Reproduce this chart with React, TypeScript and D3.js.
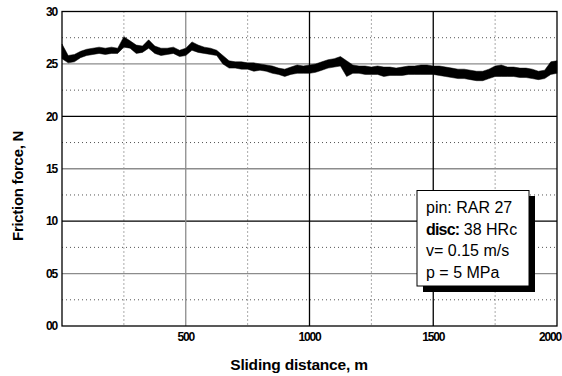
import React from 'react';
import * as d3 from 'd3';

// sliding distance samples (m)
const distance = [
  0, 25, 50, 75, 100, 125, 150, 175, 200, 225, 250, 275, 300, 325, 350, 375, 400, 425, 450, 475,
  500, 525, 550, 575, 600, 625, 650, 675, 700, 725, 750, 775, 800, 825, 850, 875, 900, 925, 950, 975,
  1000, 1025, 1050, 1075, 1100, 1125, 1150, 1175, 1200, 1225, 1250, 1275, 1300, 1325, 1350, 1375, 1400, 1425, 1450, 1475,
  1500, 1525, 1550, 1575, 1600, 1625, 1650, 1675, 1700, 1725, 1750, 1775, 1800, 1825, 1850, 1875, 1900, 1925, 1950, 1975,
  2000,
];
// lower / upper edge of the noisy friction trace (N)
const forceLow = [
  25.5, 25.1, 25.2, 25.6, 25.8, 25.9, 26.0, 25.9, 26.0, 26.0, 26.6, 26.5, 26.0, 26.1, 26.5, 26.0, 25.8, 25.9, 26.0, 25.7,
  25.8, 26.3, 26.1, 26.0, 25.9, 25.8, 25.0, 24.6, 24.6, 24.5, 24.5, 24.3, 24.4, 24.3, 24.1, 24.0, 23.8, 24.0, 24.1, 24.1,
  24.1, 24.2, 24.4, 24.6, 24.7, 24.8, 23.8, 24.1, 24.1, 24.0, 24.0, 24.0, 23.8, 23.9, 23.9, 23.9, 24.0, 24.0, 24.0, 24.0,
  24.0, 23.9, 23.8, 23.7, 23.6, 23.6, 23.5, 23.4, 23.4, 23.6, 23.8, 23.8, 23.8, 23.8, 23.7, 23.7, 23.6, 23.5, 23.6, 24.0,
  24.1,
];
const forceHigh = [
  26.9, 25.8, 25.9, 26.2, 26.4, 26.5, 26.6, 26.5, 26.6, 26.5, 27.6, 27.2, 26.8, 26.7, 27.3, 26.7, 26.5, 26.5, 26.6, 26.3,
  26.5, 27.1, 26.8, 26.6, 26.5, 26.3, 25.8, 25.3, 25.2, 25.2, 25.1, 25.1, 25.0, 24.9, 24.8, 24.6, 24.5, 24.7, 24.9, 24.8,
  24.9, 25.0, 25.2, 25.4, 25.5, 25.7, 25.3, 24.9, 24.8, 24.8, 24.7, 24.8, 24.7, 24.7, 24.6, 24.7, 24.8, 24.8, 24.9, 24.9,
  24.8, 24.8, 24.7, 24.6, 24.5, 24.5, 24.4, 24.3, 24.3, 24.5, 24.8, 24.9, 24.7, 24.7, 24.6, 24.6, 24.5, 24.3, 24.4, 25.2,
  25.3,
];

const xMajor = [500, 1000, 1500];
const xMinor = [250, 750, 1250, 1750];
const xTickValues = [500, 1000, 1500, 2000];
const xTickLabels = ['500', '1000', '1500', '2000'];
const yMajor = [0, 5, 10, 15, 20, 25, 30];
const yMinor = [2.5, 7.5, 12.5, 17.5, 22.5, 27.5];
const yTickLabels = ['00', '05', '10', '15', '20', '25', '30'];
const legendLines = [
  { head: 'pin:', rest: ' RAR 27', bold: false },
  { head: 'disc:', rest: ' 38 HRc', bold: true },
  { head: 'v', rest: '= 0.15 m/s', bold: false },
  { head: 'p', rest: ' = 5 MPa', bold: false },
];

const W = 562;
const H = 376;
const left = 62, right = 557, top = 11.5, bottom = 326;
const font = 'Arial, "Liberation Sans", sans-serif';

export default function App() {
  const x = d3.scaleLinear().domain([0, 2000]).range([left, right]);
  const y = d3.scaleLinear().domain([0, 30]).range([bottom, top]);

  const band = d3.area<number>()
    .x((_, i) => x(distance[i]))
    .y0((_, i) => y(forceLow[i]))
    .y1((_, i) => y(forceHigh[i]));
  const bandPath = band(distance) || '';

  const tickFont = { fontFamily: font, fontWeight: 'bold', fontSize: 12, letterSpacing: -1.2 };
  const majorColour = (v: number) => (v % 10 === 5 || v === 500 ? '#8c8c8c' : '#000');

  return (
    <svg width={W} height={H} style={{ position: 'absolute', left: 0, top: 0, background: '#fff' }}>
      <rect x={0} y={0} width={W} height={H} fill="#fff" />
      {/* minor dotted grid */}
      {yMinor.map((v) => (
        <line key={'ym' + v} x1={left} x2={right} y1={y(v)} y2={y(v)} stroke="#555" strokeWidth={1} strokeDasharray="1,3" />
      ))}
      {xMinor.map((v) => (
        <line key={'xm' + v} x1={x(v)} x2={x(v)} y1={top} y2={bottom} stroke="#555" strokeWidth={1} strokeDasharray="1,3" />
      ))}
      {/* major solid grid */}
      {yMajor.slice(1, -1).map((v) => (
        <line key={'yM' + v} x1={left} x2={right} y1={y(v)} y2={y(v)} stroke={majorColour(v)} strokeWidth={1.3} />
      ))}
      {xMajor.map((v) => (
        <line key={'xM' + v} x1={x(v)} x2={x(v)} y1={top} y2={bottom} stroke={majorColour(v)} strokeWidth={1.3} />
      ))}
      <rect x={left} y={top} width={right - left} height={bottom - top} fill="none" stroke="#000" strokeWidth={1.3} />

      {/* friction trace */}
      <path d={bandPath} fill="#000" stroke="#000" strokeWidth={0.5} />

      {/* tick labels */}
      {yMajor.map((v, i) => (
        <text key={'yl' + v} x={left - 5} y={y(v)} dy="0.35em" textAnchor="end" {...tickFont}>{yTickLabels[i]}</text>
      ))}
      {xTickValues.map((v, i) => (
        <text key={'xl' + v} x={i === xTickValues.length - 1 ? W - 1 : x(v)} y={bottom + 15}
          textAnchor={i === xTickValues.length - 1 ? 'end' : 'middle'} {...tickFont}>{xTickLabels[i]}</text>
      ))}

      {/* axis titles */}
      <text x={299} y={370} textAnchor="middle" fontFamily={font} fontWeight="bold" fontSize={15.5} letterSpacing={-0.2}>Sliding distance, m</text>
      <text transform="translate(23,186) rotate(-90)" textAnchor="middle" fontFamily={font} fontWeight="bold" fontSize={15} letterSpacing={-0.3}>Friction force, N</text>

      {/* legend box with shadow */}
      <rect x={423} y={196} width={112} height={96} fill="#000" />
      <rect x={417} y={190.5} width={112} height={95.5} fill="#fff" stroke="#000" strokeWidth={1} />
      {legendLines.map((l, i) => (
        <text key={'lg' + i} x={426} y={213 + i * 21.5} fontFamily={font} fontSize={16}>
          <tspan fontWeight={l.bold ? 'bold' : 'normal'} letterSpacing={l.bold ? -0.8 : 0}>{l.head}</tspan>
          <tspan>{l.rest}</tspan>
        </text>
      ))}
    </svg>
  );
}
